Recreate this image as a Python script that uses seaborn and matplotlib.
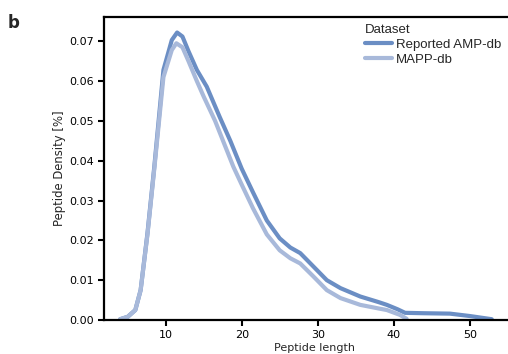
import numpy as np
import pandas as pd
import matplotlib
matplotlib.use("Agg")
import matplotlib.pyplot as plt
import seaborn as sns
from matplotlib.lines import Line2D

# Values
amp_x = [4, 5, 6, 6.7, 7.6, 8.5, 9.7, 10.8, 11.5, 12.2, 13, 14.1, 15.4, 17.1, 18.5, 20,
         21.5, 23.3, 25, 26.4, 27.7, 29.4, 31.2, 33, 35.6, 38, 39.1, 40.5, 41.5, 44,
         47.4, 50, 52.9]
amp_y = [0.0002, 0.0008, 0.0025, 0.0075, 0.0218, 0.0385, 0.0628, 0.0703, 0.0722, 0.0712,
         0.0675, 0.0628, 0.0586, 0.051, 0.045, 0.038, 0.032, 0.025, 0.0205, 0.0182, 0.0168,
         0.0135, 0.010, 0.008, 0.0059, 0.0045, 0.0038, 0.0027, 0.0018, 0.0017, 0.0016,
         0.0010, 0.0002]
mapp_x = [4, 5, 6, 6.7, 7.6, 8.5, 9.7, 10.8, 11.4, 12.2, 13, 14.1, 15, 16.5, 18.9, 20,
          21.5, 23.3, 25, 26.4, 27.7, 29.4, 31.2, 33, 35.6, 38, 39.1, 40.8, 41.7]
mapp_y = [0.0002, 0.0008, 0.0025, 0.0075, 0.0215, 0.038, 0.061, 0.0678, 0.0695, 0.0685,
          0.065, 0.0600, 0.0561, 0.050, 0.0385, 0.034, 0.028, 0.0215, 0.0175, 0.0155,
          0.0142, 0.011, 0.0075, 0.0055, 0.0038, 0.0029, 0.0025, 0.0013, 0.0003]
series_names = ["Reported AMP-db", "MAPP-db"]
colors = ["#6b8ec4", "#a8b9da"]
x_ticks = [10, 20, 30, 40, 50]
y_ticks = [0.00, 0.01, 0.02, 0.03, 0.04, 0.05, 0.06, 0.07]

df = pd.concat([
    pd.DataFrame({"Peptide length": amp_x, "Density": amp_y, "Dataset": series_names[0]}),
    pd.DataFrame({"Peptide length": mapp_x, "Density": mapp_y, "Dataset": series_names[1]}),
])

sns.set_style("ticks")
plt.rcParams["font.family"] = ["DejaVu Sans"]

fig = plt.figure(figsize=(5.08, 3.54), dpi=100)
ax = fig.add_axes([104 / 508, 34 / 354, 420 / 508, 303 / 354])

sns.lineplot(data=df, x="Peptide length", y="Density", hue="Dataset",
             palette=dict(zip(series_names, colors)), linewidth=3.0,
             ax=ax, legend=False)
for ln in ax.get_lines():
    ln.set_solid_joinstyle("round")
    ln.set_solid_capstyle("round")

ax.set_xlim(1.88, 1.88 + 420 / 7.6)
ax.set_ylim(0, 0.0761)
ax.set_xticks(x_ticks)
ax.set_yticks(y_ticks)
ax.set_yticklabels([f"{v:.2f}" for v in y_ticks])
ax.tick_params(labelsize=8, width=1.5, length=4, color="black", labelcolor="black")
for s in ax.spines.values():
    s.set_linewidth(1.6)
    s.set_color("black")
ax.spines["right"].set_visible(False)
ax.set_xlabel("Peptide length", fontsize=8, labelpad=2)
ax.set_ylabel("Peptide Density [%]", fontsize=8.4, labelpad=2)

handles = [Line2D([], [], color=c, lw=3.0) for c in colors]
leg = fig.legend(handles, series_names, title="Dataset", loc="upper left",
                 bbox_to_anchor=(365 / 508, 1 - 24 / 354), frameon=False,
                 prop={"family": "Liberation Sans", "size": 9.5},
                 handlelength=2.05, handletextpad=0.3, labelspacing=0.2,
                 borderpad=0, borderaxespad=0)
leg.get_title().set_fontfamily("Liberation Sans")
leg.get_title().set_fontsize(9.5)
leg._legend_box.align = "left"

fig.text(8 / 508, 1 - 28 / 354, "b", fontsize=12, fontweight="bold")

fig.savefig("out.png", dpi=100)
